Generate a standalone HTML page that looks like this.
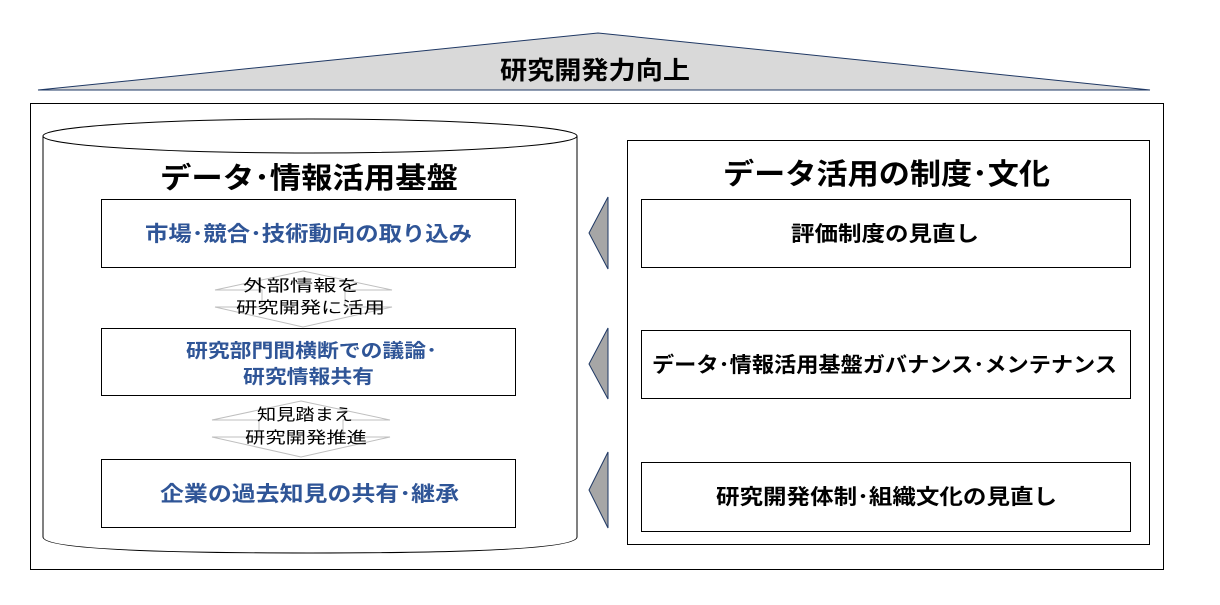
<!DOCTYPE html>
<html><head><meta charset="utf-8"><style>
body{margin:0;background:#fff;}
text{font-family:"Liberation Sans","Noto Sans CJK JP",sans-serif;}
</style></head><body>
<svg width="1220" height="600" viewBox="0 0 1220 600" xmlns="http://www.w3.org/2000/svg">
<polygon points="38,90 598,33 1150,90" fill="#d9d9d9" stroke="#1f3864" stroke-width="1"/>
<text x="500" y="79" font-size="25" font-weight="bold" textLength="190" lengthAdjust="spacingAndGlyphs">研究開発力向上</text>
<rect x="30.5" y="103.5" width="1133" height="466" fill="none" stroke="#000" stroke-width="1"/>
<path d="M43,136 L43,537 Q43,553 310,553 Q577,553 577,537 L577,136" fill="#fff" stroke="#000" stroke-width="1"/>
<ellipse cx="310" cy="136" rx="267" ry="17" fill="#fff" stroke="#000" stroke-width="1"/>
<text x="160" y="188" font-size="29" font-weight="bold" textLength="298" lengthAdjust="spacingAndGlyphs">データ･情報活用基盤</text>
<g fill="#fff" stroke="#000" stroke-width="1">
<rect x="101.5" y="199.5" width="414" height="68"/>
<rect x="101.5" y="328.5" width="414" height="67"/>
<rect x="101.5" y="459.5" width="414" height="68"/>
</g>
<g fill="#2f5597" font-size="21" font-weight="bold">
<text x="145" y="241" textLength="327" lengthAdjust="spacingAndGlyphs">市場･競合･技術動向の取り込み</text>
<text x="186" y="357" font-size="19" textLength="251" lengthAdjust="spacingAndGlyphs">研究部門間横断での議論･</text>
<text x="243" y="383" font-size="19" textLength="131" lengthAdjust="spacingAndGlyphs">研究情報共有</text>
<text x="160" y="501" textLength="299" lengthAdjust="spacingAndGlyphs">企業の過去知見の共有･継承</text>
</g>
<g fill="#fff" stroke="#bfbfbf" stroke-width="1">
<polygon points="303,271 392,290 345,290 345,307 392,307 303,327 215,307 262,307 262,290 215,290"/>
<polygon points="301,401 390,420 343,420 343,437 390,437 301,457 212,437 259,437 259,420 212,420"/>
</g>
<g font-size="16" fill="#000">
<text x="243" y="291" textLength="117" lengthAdjust="spacingAndGlyphs">外部情報を</text>
<text x="236" y="313" textLength="149" lengthAdjust="spacingAndGlyphs">研究開発に活用</text>
<text x="257" y="420" textLength="96" lengthAdjust="spacingAndGlyphs">知見踏まえ</text>
<text x="245" y="443" textLength="122" lengthAdjust="spacingAndGlyphs">研究開発推進</text>
</g>
<rect x="627.5" y="140.5" width="522" height="404" fill="#fff" stroke="#000" stroke-width="1"/>
<text x="723" y="184" font-size="29" font-weight="bold" textLength="327" lengthAdjust="spacingAndGlyphs">データ活用の制度･文化</text>
<g fill="#fff" stroke="#000" stroke-width="1">
<rect x="641.5" y="199.5" width="489" height="68"/>
<rect x="641.5" y="330.5" width="489" height="68"/>
<rect x="641.5" y="462.5" width="489" height="69"/>
</g>
<g font-size="21" font-weight="bold" fill="#000">
<text x="791" y="241" textLength="188" lengthAdjust="spacingAndGlyphs">評価制度の見直し</text>
<text x="652" y="372" textLength="465" lengthAdjust="spacingAndGlyphs">データ･情報活用基盤ガバナンス･メンテナンス</text>
<text x="716" y="504" textLength="341" lengthAdjust="spacingAndGlyphs">研究開発体制･組織文化の見直し</text>
</g>
<g fill="#a6a6a6" stroke="#1f3864" stroke-width="1">
<polygon points="608,197 589,233 608,269"/>
<polygon points="608,328 589,364 608,399"/>
<polygon points="608,452 589,490 608,528"/>
</g>
</svg>
</body></html>
